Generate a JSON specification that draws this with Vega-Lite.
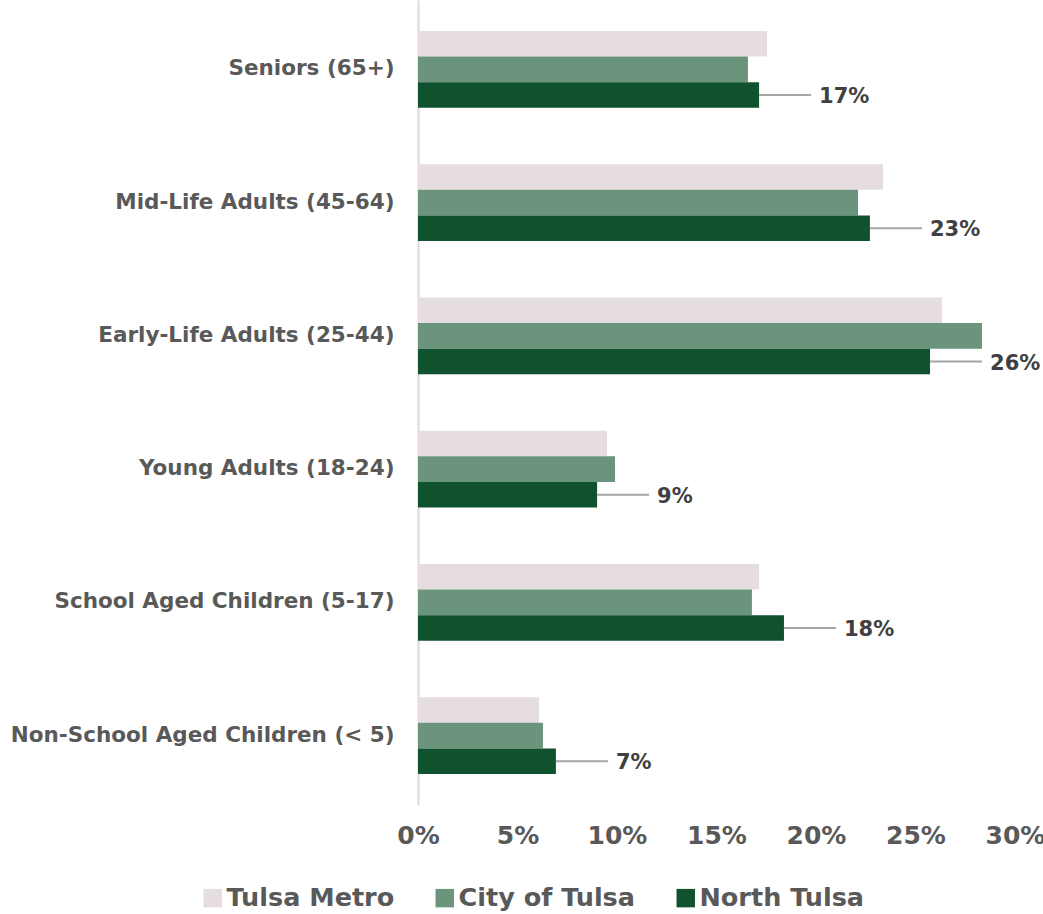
{
  "$schema": "https://vega.github.io/schema/vega-lite/v6.json",
  "width": 597,
  "height": 805,
  "autosize": {"type": "none"},
  "padding": {"left": 418, "top": 0, "right": 28, "bottom": 109},
  "background": "white",
  "config": {"font": "DejaVu Sans", "view": {"stroke": null}},
  "data": {
    "values": [
      {"group": "Seniors (65+)", "series": "Tulsa Metro", "value": 0.1754},
      {"group": "Seniors (65+)", "series": "City of Tulsa", "value": 0.1658},
      {"group": "Seniors (65+)", "series": "North Tulsa", "value": 0.1714},
      {"group": "Mid-Life Adults (45-64)", "series": "Tulsa Metro", "value": 0.2337},
      {"group": "Mid-Life Adults (45-64)", "series": "City of Tulsa", "value": 0.2211},
      {"group": "Mid-Life Adults (45-64)", "series": "North Tulsa", "value": 0.2271},
      {"group": "Early-Life Adults (25-44)", "series": "Tulsa Metro", "value": 0.2633},
      {"group": "Early-Life Adults (25-44)", "series": "City of Tulsa", "value": 0.2834},
      {"group": "Early-Life Adults (25-44)", "series": "North Tulsa", "value": 0.2573},
      {"group": "Young Adults (18-24)", "series": "Tulsa Metro", "value": 0.095},
      {"group": "Young Adults (18-24)", "series": "City of Tulsa", "value": 0.099},
      {"group": "Young Adults (18-24)", "series": "North Tulsa", "value": 0.09},
      {"group": "School Aged Children (5-17)", "series": "Tulsa Metro", "value": 0.1714},
      {"group": "School Aged Children (5-17)", "series": "City of Tulsa", "value": 0.1678},
      {"group": "School Aged Children (5-17)", "series": "North Tulsa", "value": 0.1839},
      {"group": "Non-School Aged Children (< 5)", "series": "Tulsa Metro", "value": 0.0608},
      {"group": "Non-School Aged Children (< 5)", "series": "City of Tulsa", "value": 0.0628},
      {"group": "Non-School Aged Children (< 5)", "series": "North Tulsa", "value": 0.0693}
    ]
  },
  "encoding": {
    "y": {
      "field": "group",
      "type": "nominal",
      "sort": ["Seniors (65+)", "Mid-Life Adults (45-64)", "Early-Life Adults (25-44)", "Young Adults (18-24)", "School Aged Children (5-17)", "Non-School Aged Children (< 5)"],
      "scale": {"paddingInner": 0.423, "paddingOuter": 0.232},
      "axis": {
        "title": null,
        "ticks": false,
        "domainColor": "#d9d9d9",
        "domainWidth": 2,
        "labelFontSize": 21.5,
        "labelFontWeight": "bold",
        "labelColor": "#595959",
        "labelPadding": 24,
        "labelLimit": 500
      }
    },
    "yOffset": {
      "field": "series",
      "type": "nominal",
      "sort": ["Tulsa Metro", "City of Tulsa", "North Tulsa"],
      "scale": {"domain": ["Tulsa Metro", "City of Tulsa", "North Tulsa"], "paddingInner": 0, "paddingOuter": 0}
    }
  },
  "layer": [
    {
      "mark": {"type": "bar"},
      "encoding": {
        "x": {
          "field": "value",
          "type": "quantitative",
          "scale": {"domain": [0, 0.3], "nice": false},
          "axis": {
            "title": null,
            "domain": false,
            "ticks": false,
            "grid": false,
            "format": ".0%",
            "values": [0, 0.05, 0.1, 0.15, 0.2, 0.25, 0.3],
            "labelFontSize": 25,
            "labelFontWeight": "bold",
            "labelColor": "#595959",
            "labelPadding": 18,
            "labelFlush": false,
            "labelOverlap": false
          }
        },
        "color": {
          "field": "series",
          "type": "nominal",
          "scale": {
            "domain": ["Tulsa Metro", "City of Tulsa", "North Tulsa"],
            "range": ["#e6dde0", "#6a947c", "#10522d"]
          },
          "legend": {
            "title": null,
            "orient": "none",
            "direction": "horizontal",
            "legendX": -218,
            "legendY": 885,
            "symbolType": "square",
            "symbolSize": 340,
            "symbolStrokeWidth": 0,
            "labelFontSize": 25.5,
            "labelFontWeight": "bold",
            "labelColor": "#595959",
            "labelOffset": 1,
            "columnPadding": 37,
            "labelLimit": 400
          }
        }
      }
    },
    {
      "transform": [{"filter": "datum.series === 'North Tulsa'"}],
      "mark": {"type": "rule", "color": "#a6a6a6", "strokeWidth": 2, "x2Offset": 52},
      "encoding": {
        "x": {"field": "value", "type": "quantitative"},
        "x2": {"field": "value"}
      }
    },
    {
      "transform": [{"filter": "datum.series === 'North Tulsa'"}],
      "mark": {"type": "text", "align": "left", "baseline": "middle", "dx": 60, "dy": 2, "fontSize": 21, "fontWeight": "bold", "color": "#404040"},
      "encoding": {
        "x": {"field": "value", "type": "quantitative"},
        "text": {"field": "value", "type": "quantitative", "format": ".0%"}
      }
    }
  ]
}
